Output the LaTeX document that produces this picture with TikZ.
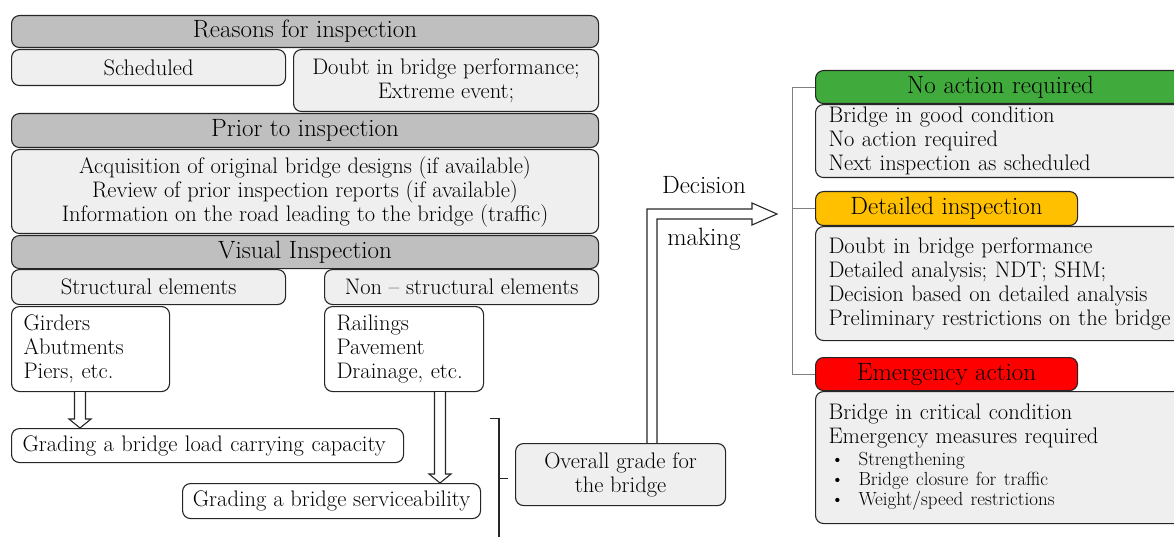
\documentclass[tikz,border=0pt]{standalone}
\usepackage{fontspec}
\usepackage{tikz}
\usetikzlibrary{calc,positioning}
\definecolor{hdgray}{RGB}{191,191,191}
\definecolor{boxgray}{RGB}{239,239,239}
\definecolor{okgreen}{RGB}{65,170,60}
\definecolor{warnorange}{RGB}{255,192,0}
\definecolor{alertred}{RGB}{255,0,0}
\tikzstyle{base} = [draw=black!85, line width=1.1pt, rounded corners=8pt, inner sep=0pt, anchor=north west, font=\fontsize{22.5}{24}\selectfont]
\tikzstyle{header} = [base, fill=hdgray, align=center, font=\fontsize{25}{26}\selectfont]
\tikzstyle{item} = [base, fill=boxgray, align=center]
\tikzstyle{plain} = [base, fill=white, align=left, inner xsep=12pt]
\tikzstyle{bodybox} = [base, fill=boxgray, align=left, inner xsep=13pt, text width=344pt]
\tikzstyle{hollow} = [draw=black!85, line width=1.1pt, line join=miter]
\tikzstyle{branch} = [draw=gray, line width=0.9pt]
\tikzstyle{bracket} = [draw=black!85, line width=1.1pt]
\tikzstyle{label} = [inner sep=0pt, font=\fontsize{25}{26}\selectfont]
\newcommand{\dnarrow}[2]{\draw[hollow, fill=white] ($(#1)+(-5.5,0)$) -- ($(#2)+(-5.5,-9)$) -- ($(#2)+(-11,-9)$) -- (#2) -- ($(#2)+(11,-9)$) -- ($(#2)+(5.5,-9)$) -- ($(#1)+(5.5,0)$);}
\newcommand{\bul}[1]{{\fontsize{19}{20}\selectfont\makebox[30pt][l]{\hspace{2pt}\textbullet}#1}}

\begin{document}
\begin{tikzpicture}[x=1pt, y=-1pt]
\clip (0,0) rectangle (1174,537);
% Reasons for inspection
\node[header, minimum width=587, minimum height=32] (reasons) at (11,15) {Reasons for inspection};
\node[item, minimum width=274, minimum height=36] (sched) at (11,49) {Scheduled};
\node[item, minimum width=305, minimum height=62] (doubt) at (293,49) {Doubt in bridge performance;\\Extreme event;};

% Prior to inspection
\node[header, minimum width=587, minimum height=34] (prior) at (11,113) {Prior to inspection};
\node[item, minimum width=587, minimum height=84] (acq) at (11,149) {Acquisition of original bridge designs (if available)\\Review of prior inspection reports (if available)\\Information on the road leading to the bridge (traffic)};

% Visual inspection
\node[header, minimum width=587, minimum height=33] (visual) at (11,235) {Visual Inspection};
\node[item, minimum width=274, minimum height=35] (struct) at (11,269) {Structural elements};
\node[item, minimum width=274, minimum height=35] (nonstruct) at (324,269) {Non -- structural elements};
\node[plain, text width=134, minimum height=85] (girders) at (11,306) {Girders\\Abutments\\Piers, etc.};
\node[plain, text width=135, minimum height=85] (railings) at (324,306) {Railings\\Pavement\\Drainage, etc.};

% Grading
\node[plain, inner xsep=11pt, text width=370, minimum height=34] (loadcap) at (11,428) {Grading a bridge load carrying capacity};
\node[plain, inner xsep=0pt, minimum width=298, minimum height=35] (service) at (182,483) {Grading a bridge serviceability};
\node[item, minimum width=210, minimum height=62] (overall) at (515,443) {Overall grade for\\the bridge};

\coordinate (g1) at ($(girders.south west)+(69,0)$);
\coordinate (g2) at ($(loadcap.north west)+(69,0)$);
\coordinate (r1) at ($(railings.south west)+(116,0)$);
\coordinate (r2) at ($(service.north west)+(258,0)$);
\dnarrow{g1}{g2}
\dnarrow{r1}{r2}

% Bracket
\draw[bracket] (overall.west) ++(-7,4) -- ++(-9,0) coordinate (br);
\draw[bracket] ($(br)+(-9,-60)$) -| ($(br)+(0,70)$);

% Decision making
\coordinate (d0) at ($(overall.north west)+(132,0)$);
\draw[hollow] (d0) -- ++(0,-234) -- ++(105,0) -- ++(0,-6) -- ++(25,11) -- ++(-25,11) -- ++(0,-6) -- ++(-95,0) -- ++(0,224);
\node[label] (decision) at (704,185) {Decision};
\node[label] (making) at (704,239) {making};

% Outcomes
\node[header, fill=okgreen, minimum width=370, minimum height=33] (noact) at (815,70) {No action required};
\node[bodybox, minimum height=73] (nobody) at (815,104) {Bridge in good condition\\No action required\\Next inspection as scheduled};
\node[header, fill=warnorange, minimum width=262, minimum height=34] (detail) at (815,191) {Detailed inspection};
\node[bodybox, minimum height=114] (detbody) at (815,226) {Doubt in bridge performance\\Detailed analysis; NDT; SHM;\\Decision based on detailed analysis\\Preliminary restrictions on the bridge};
\node[header, fill=alertred, minimum width=262, minimum height=33] (emerg) at (815,357) {Emergency action};
\node[bodybox, minimum height=132] (embody) at (815,391) {Bridge in critical condition\\Emergency measures required\\[-2pt]\bul{Strengthening}\\[-4pt]\bul{Bridge closure for traffic}\\[-4pt]\bul{Weight/speed restrictions}};

\draw[branch] (noact.west) -- ++(-23,0) |- (emerg.west);
\draw[branch] (detail.west) -- ++(-23,0);
\end{tikzpicture}
\end{document}
